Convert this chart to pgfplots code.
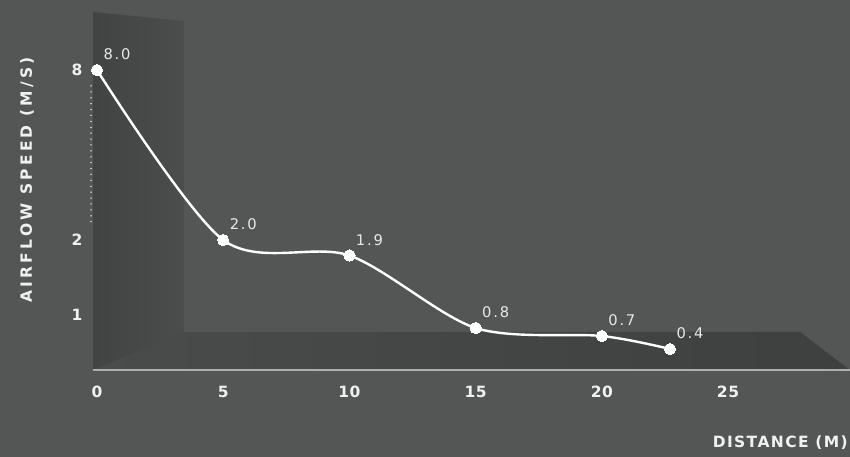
\documentclass[border=0pt]{standalone}
\usepackage{pgfplots}
\pgfplotsset{compat=1.18}
\usepackage{pgfplotstable}
\usepackage{fontspec}
\setmainfont{DejaVu Sans}
\newfontfamily\tickfont{DejaVu Sans}[LetterSpace=4]
\newfontfamily\titlefont{DejaVu Sans}[LetterSpace=9]
\newfontfamily\ytitlefont{DejaVu Sans}[LetterSpace=21]
\newfontfamily\valfont{DejaVu Sans}[LetterSpace=12]
\definecolor{bg}{HTML}{545656}
\definecolor{wallL}{HTML}{424444}
\definecolor{wallR}{HTML}{4B4D4D}
\definecolor{floorL}{HTML}{4A4C4C}
\definecolor{floorR}{HTML}{3E4040}
\definecolor{txt}{HTML}{F0F0F0}
\definecolor{valtxt}{HTML}{E8E8E8}
\definecolor{axline}{HTML}{AEAEAE}
\pgfplotstableread{
x y label
0 8 8.0
5 2 2.0
10 1.9 1.9
15 0.8 0.8
20 0.7 0.7
22.7 0.4 0.4
}\airflow
\begin{document}
\begin{tikzpicture}[x=1pt,y=1pt]
\fill[bg] (0,0) rectangle (850,457);
% back wall
\shade[left color=wallL,right color=wallR] (93,445) -- (184,436) -- (184,125) -- (93,87) -- cycle;
% floor
\shade[left color=floorL,right color=floorR] (93,87) -- (184,125) -- (800,125) -- (850,87) -- cycle;
% axis line
\draw[axline,line width=1.2pt] (92.5,87) -- (850,87);
% dotted break line
\draw[white,line width=1.5pt,dash pattern=on 0pt off 5.9pt,line cap=round] (91,371) -- (91,231);
\begin{axis}[
  at={(97pt,87pt)}, anchor=south west,
  scale only axis, width=753pt, height=300pt,
  xmin=0, xmax=29.83, ymin=0, ymax=8,
  clip=false,
  axis line style={draw=none},
  tick style={draw=none},
  major tick length=0pt,
  xtick={0,5,10,15,20,25},
  xticklabels={0,5,10,15,20,25},
  ytick={1,2,8},
  yticklabels={1,2,8},
  xticklabel style={anchor=center,yshift=-21.5pt,text=txt,font=\tickfont\bfseries\fontsize{15.5}{15.5}\selectfont},
  yticklabel style={anchor=center,xshift=-20pt,text=txt,font=\tickfont\bfseries\fontsize{15.5}{15.5}\selectfont},
  y coord trafo/.code={\pgfmathparse{(#1<=0.4) ? (52.5*#1) : ((#1<=0.7) ? (21+43.333*(#1-0.4)) : ((#1<=0.8) ? (34+80*(#1-0.7)) : ((#1<=1) ? (42+65*(#1-0.8)) : ((#1<=1.9) ? (55+66.111*(#1-1)) : ((#1<=2) ? (114.5+155*(#1-1.9)) : (130+28.333*(#1-2)))))))}},
  every node near coord/.append style={anchor=center,xshift=20pt,yshift=15.5pt,text=valtxt,font=\valfont\fontsize{14.7}{14.7}\selectfont},
]
\addplot[white,line width=2.4pt,smooth,tension=0.5,mark=*,mark size=5.6pt,
  mark options={fill=white,draw=white,line width=0pt},
  nodes near coords, point meta=explicit symbolic]
  table[x=x,y=y,meta=label]{\airflow};
\end{axis}
\node[rotate=90,text=txt,font=\ytitlefont\bfseries\fontsize{15.5}{15.5}\selectfont] at (27,277) {AIRFLOW SPEED (M/S)};
\node[anchor=east,text=txt,font=\titlefont\bfseries\fontsize{15.5}{15.5}\selectfont,inner sep=0pt] at (848,14.5) {DISTANCE (M)};
\pgfresetboundingbox
\useasboundingbox (0,0) rectangle (850,457);
\end{tikzpicture}
\end{document}
